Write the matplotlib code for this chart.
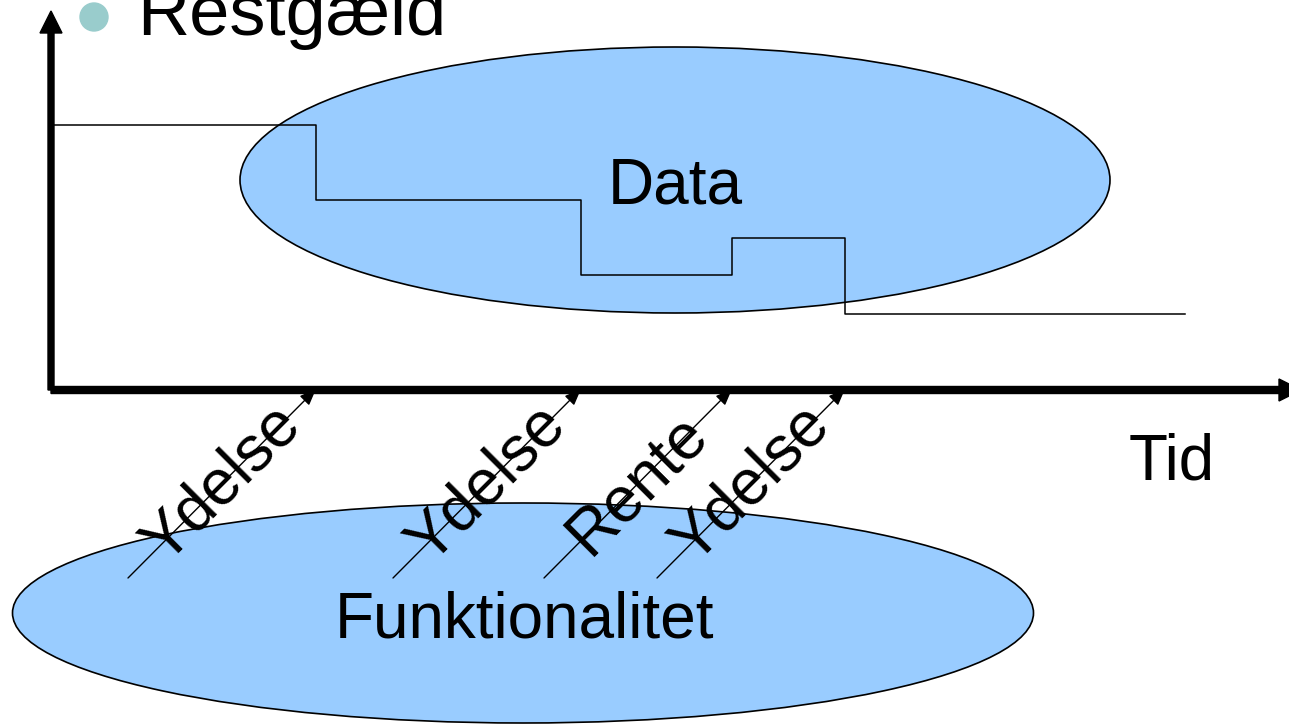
import matplotlib
matplotlib.use("Agg")
import matplotlib.pyplot as plt
from matplotlib.patches import Ellipse, Circle

plt.rcParams["font.family"] = ["Liberation Sans", "DejaVu Sans"]

# time of each event on the Tid axis, and the Restgæld level after it
event_times = [265, 530, 681, 794]
event_labels = ["Ydelse", "Ydelse", "Rente", "Ydelse"]
step_times = [2, 265, 530, 681, 794, 1134]
restgaeld = [265, 190, 115, 152, 76, 76]

title = "Restgæld"
x_label = "Tid"
data_label = "Data"
func_label = "Funktionalitet"

fig = plt.figure(figsize=(12.89, 7.25), dpi=100)
ax = fig.add_axes([0, 0, 1, 1])
ax.set_xlim(-51, 1238)
ax.set_ylim(-335, 390)
ax.axis("off")

fill = "#99CCFF"
fs = 46

# the two bubbles
ax.add_patch(Ellipse((624, 210), 870, 266, facecolor=fill, edgecolor="black", lw=1.2, zorder=1))
ax.add_patch(Ellipse((472, -223), 1021, 220, facecolor=fill, edgecolor="black", lw=1.2, zorder=1))
ax.text(624, 187, data_label, fontsize=fs, ha="center", va="baseline", zorder=5)
ax.text(474, -247, func_label, fontsize=fs, ha="center", va="baseline", zorder=5)

# restgæld over time
ax.plot(step_times, restgaeld, drawstyle="steps-post", color="black", lw=1.1, zorder=3)

# axes with arrow heads
ax.arrow(0, 0, 0, 379, width=6, head_width=22, head_length=22,
         length_includes_head=True, color="black", zorder=6)
ax.arrow(0, 0, 1250, 0, width=7, head_width=22, head_length=22,
         length_includes_head=True, color="black", zorder=6)

# bullet + title
ax.add_patch(Circle((43, 373), 14, color="#99CCCC", zorder=6))
ax.text(86, 355, title, fontsize=52, ha="left", va="baseline", zorder=6)
ax.text(1078, -90, x_label, fontsize=fs, ha="left", va="baseline", zorder=6)

# functions pushing on the timeline
d = 188
for t, lab in zip(event_times, event_labels):
    ax.annotate("", xy=(t, 1), xytext=(t - d, -d),
                arrowprops=dict(arrowstyle="-|>,head_length=0.5,head_width=0.2",
                                lw=1.0, color="black", shrinkA=0, shrinkB=0,
                                mutation_scale=20), zorder=4)
    ax.text(t - d / 2, -d / 2, lab, fontsize=fs, rotation=45,
            rotation_mode="anchor", ha="center", va="center", zorder=5)

fig.savefig("out.png", dpi=100)
